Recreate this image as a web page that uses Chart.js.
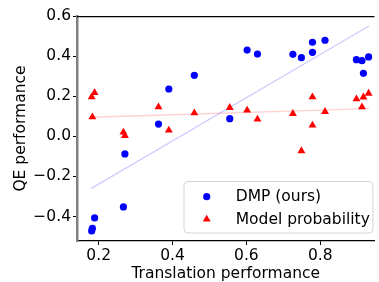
<!DOCTYPE html>
<html>
<head>
<meta charset="utf-8">
<script src="https://cdn.jsdelivr.net/npm/chart.js@4/dist/chart.umd.min.js"></script>
<style>
  html, body { margin: 0; padding: 0; background: #fff; }
  #wrap { width: 379px; height: 282px; position: relative; }
</style>
</head>
<body>
<div id="wrap"><canvas id="c" width="379" height="282"></canvas></div>
<script>
// ---- data ----
const translation = [0.181, 0.183, 0.189, 0.267, 0.271, 0.362, 0.390, 0.459, 0.555, 0.602, 0.630, 0.726, 0.749, 0.779, 0.779, 0.813, 0.898, 0.913, 0.917, 0.931];
const dmpQE       = [-0.472, -0.459, -0.407, -0.352, -0.088, 0.061, 0.236, 0.304, 0.088, 0.430, 0.410, 0.409, 0.392, 0.469, 0.419, 0.479, 0.382, 0.377, 0.314, 0.396];
const probQE      = [0.196, 0.096, 0.217, 0.020, 0.003, 0.146, 0.030, 0.116, 0.143, 0.130, 0.085, 0.113, -0.073, 0.196, 0.055, 0.123, 0.186, 0.146, 0.195, 0.214];
// fitted trend lines (endpoints)
const dmpFitX  = [0.179, 0.932];
const dmpFitY  = [-0.261, 0.550];
const probFitX = [0.181, 0.932];
const probFitY = [0.095, 0.138];
const seriesLabels = ['DMP (ours)', 'Model probability'];
const xTicks = [0.2, 0.4, 0.6, 0.8];
const yTicks = [-0.4, -0.2, 0.0, 0.2, 0.4, 0.6];
const xTitle = 'Translation performance';
const yTitle = 'QE performance';

const FONT = "'DejaVu Sans', sans-serif";
const pts = (xs, ys) => xs.map((x, i) => ({ x: x, y: ys[i] }));
const fmt = v => (v < 0 ? '\u2212' : '') + Math.abs(v).toFixed(1);

const topSpine = {
  id: 'topSpine',
  afterDraw(chart) {
    const { ctx, chartArea: a } = chart;
    ctx.save();
    ctx.strokeStyle = '#000';
    ctx.lineWidth = 1.25;
    ctx.beginPath();
    ctx.moveTo(a.left, a.top + 0.5);
    ctx.lineTo(a.right, a.top + 0.5);
    ctx.stroke();
    ctx.restore();
  }
};

const innerLegend = {
  id: 'innerLegend',
  afterDraw(chart) {
    const { ctx, chartArea: a } = chart;
    const items = seriesLabels.map(l => chart.data.datasets.find(d => d.label === l));
    const bx = 184, by = 181.5, bw = a.right - 1.5 - bx, bh = 51.5, r = 4;
    ctx.save();
    ctx.beginPath();
    ctx.moveTo(bx + r, by);
    ctx.lineTo(bx + bw - r, by); ctx.quadraticCurveTo(bx + bw, by, bx + bw, by + r);
    ctx.lineTo(bx + bw, by + bh - r); ctx.quadraticCurveTo(bx + bw, by + bh, bx + bw - r, by + bh);
    ctx.lineTo(bx + r, by + bh); ctx.quadraticCurveTo(bx, by + bh, bx, by + bh - r);
    ctx.lineTo(bx, by + r); ctx.quadraticCurveTo(bx, by, bx + r, by);
    ctx.closePath();
    ctx.fillStyle = 'rgba(255,255,255,0.8)';
    ctx.fill();
    ctx.strokeStyle = '#d4d4d4';
    ctx.lineWidth = 1;
    ctx.stroke();
    items.forEach((d, i) => {
      const cy = by + 15.2 + i * 22.6;
      const opts = { pointStyle: d.pointStyle, radius: d.pointRadius, borderWidth: 0, rotation: 0 };
      ctx.fillStyle = d.backgroundColor;
      ctx.strokeStyle = d.backgroundColor;
      Chart.helpers.drawPoint(ctx, opts, 206.7, cy);
      ctx.fillStyle = '#000';
      ctx.font = '15.5px ' + FONT;
      ctx.textBaseline = 'middle';
      ctx.textAlign = 'left';
      ctx.fillText(d.label, 235.7, cy + 0.5);
    });
    ctx.restore();
  }
};

new Chart(document.getElementById('c'), {
  type: 'scatter',
  data: {
    datasets: [
      { label: 'dmpfit', data: pts(dmpFitX, dmpFitY), showLine: true, pointRadius: 0,
        borderColor: 'rgba(0,0,255,0.2)', borderWidth: 1.3, order: 3 },
      { label: 'probfit', data: pts(probFitX, probFitY), showLine: true, pointRadius: 0,
        borderColor: 'rgba(255,0,0,0.18)', borderWidth: 1.3, order: 3 },
      { label: seriesLabels[1], data: pts(translation, probQE), pointStyle: 'triangle',
        pointRadius: 4.6, backgroundColor: '#ff0000', borderColor: '#ff0000', borderWidth: 0, order: 2 },
      { label: seriesLabels[0], data: pts(translation, dmpQE), pointStyle: 'circle',
        pointRadius: 3.6, backgroundColor: '#0000ff', borderColor: '#0000ff', borderWidth: 0, order: 1 }
    ]
  },
  options: {
    responsive: false,
    animation: false,
    devicePixelRatio: 1,
    layout: { padding: { top: 16, left: 0, right: 0, bottom: 0 } },
    plugins: { legend: { display: false }, tooltip: { enabled: false } },
    scales: {
      x: {
        type: 'linear', min: 0.1413, max: 0.9467,
        afterBuildTicks: s => { s.ticks = xTicks.map(v => ({ value: v })); },
        afterFit: s => { s.height = 41; },
        ticks: { callback: v => fmt(v), color: '#000', font: { family: FONT, size: 15.5 }, padding: 2, maxRotation: 0 },
        grid: { display: true, drawOnChartArea: false, drawTicks: true, tickLength: 4, tickColor: '#000', tickWidth: 1 },
        border: { color: '#000', width: 1.25 },
        title: { display: true, text: xTitle, color: '#000', font: { family: FONT, size: 15.5, lineHeight: 1.0 }, padding: { top: 0, bottom: 0 } }
      },
      y: {
        type: 'linear', min: -0.522, max: 0.6,
        afterBuildTicks: s => { s.ticks = yTicks.map(v => ({ value: v })); },
        afterFit: s => { s.width = 77; },
        ticks: { callback: v => fmt(v), color: '#000', font: { family: FONT, size: 15.5 }, padding: 2 },
        grid: { display: true, drawOnChartArea: false, drawTicks: true, tickLength: 4, tickColor: '#000', tickWidth: 1 },
        border: { color: '#808080', width: 2.5 },
        title: { display: true, text: yTitle, color: '#000', font: { family: FONT, size: 15.5 }, padding: { top: 12, bottom: 0 } }
      }
    }
  },
  plugins: [topSpine, innerLegend]
});
</script>
</body>
</html>
